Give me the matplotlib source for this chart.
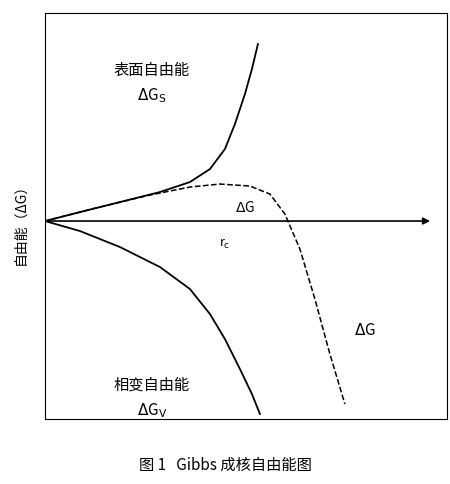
import matplotlib.pyplot as plt

plt.rcParams['font.family'] = ['Noto Sans CJK SC', 'DejaVu Sans']

# curve data (r, ΔG in arbitrary units)
r_surf = [0, 35, 75, 115, 145, 165, 180, 190, 200, 207, 213]
g_surf = [0, 9, 19, 29, 39, 52, 72, 97, 127, 152, 177]

r_vol = [0, 35, 75, 115, 145, 165, 180, 195, 207, 215]
g_vol = [0, -10, -26, -46, -68, -93, -118, -148, -173, -193]

r_tot = [0, 55, 105, 145, 175, 205, 225, 240, 255, 270, 285, 300]
g_tot = [0, 14, 26, 34, 37, 35, 27, 7, -28, -78, -133, -183]

fig = plt.figure(figsize=(4.5, 4.85), dpi=100)
ax = fig.add_axes([0.1, 0.134, 0.893, 0.837])

ax.plot(r_surf, g_surf, 'k-', lw=1.3)
ax.plot(r_vol, g_vol, 'k-', lw=1.3)
ax.plot(r_tot, g_tot, 'k--', lw=1.1)
ax.annotate('', xy=(388, 0), xytext=(0, 0),
            arrowprops=dict(arrowstyle='-|>', color='k', lw=1.2))

ax.set_xlim(0, 402)
ax.set_ylim(-198, 208)
ax.set_xticks([])
ax.set_yticks([])

ax.text(107, 147, '表面自由能', ha='center', fontsize=11)
ax.text(107, 122, r'$\Delta$G$_{\rm S}$', ha='center', fontsize=11)
ax.text(200, 10, r'$\Delta$G', ha='center', fontsize=10)
ax.text(180, -25, r'r$_{\rm c}$', ha='center', fontsize=9)
ax.text(320, -113, r'$\Delta$G', ha='center', fontsize=11)
ax.text(107, -168, '相变自由能', ha='center', fontsize=11)
ax.text(107, -193, r'$\Delta$G$_{\rm V}$', ha='center', fontsize=11)

fig.text(0.045, 0.545, '自由能（ΔG）', rotation=90, ha='center', va='center', fontsize=10)
fig.text(0.5, 0.04, '图 1   Gibbs 成核自由能图', ha='center', va='center', fontsize=11)

fig.savefig('out.png', dpi=100)
